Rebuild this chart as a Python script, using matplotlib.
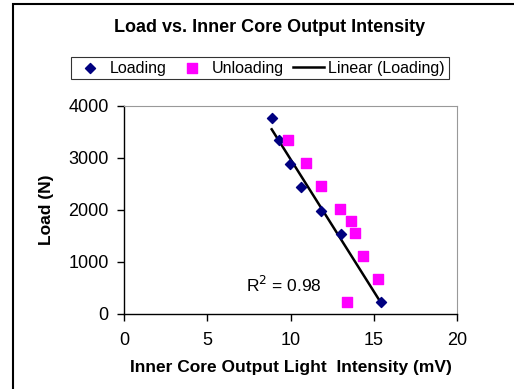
import numpy as np
import matplotlib
matplotlib.use("Agg")
import matplotlib.pyplot as plt
from matplotlib.patches import Rectangle

plt.rcParams['font.family'] = ['Liberation Sans', 'DejaVu Sans']

# data
load_x = [8.87, 9.31, 9.99, 10.63, 11.85, 13.05, 15.45]
load_y = [3760, 3340, 2880, 2450, 1990, 1545, 225]
unload_x = [9.83, 10.91, 11.81, 13.0, 13.61, 13.87, 14.37, 15.23, 13.39]
unload_y = [3340, 2900, 2460, 2010, 1780, 1560, 1120, 670, 240]
r2_label = 0.98

fig = plt.figure(figsize=(5.14, 3.89), dpi=100)
ax = fig.add_axes([124/514, 1 - 314/389, 333/514, 208/389])

ax.scatter(load_x, load_y, marker='D', s=26, color='#000080', label='Loading', zorder=3)
ax.scatter(unload_x, unload_y, marker='s', s=44, color='#FF00FF', label='Unloading', zorder=3)

# linear trendline for loading
k, b = np.polyfit(load_x, load_y, 1)
xs = np.array([min(load_x), max(load_x)])
ax.plot(xs, k * xs + b, color='black', lw=1.8, label='Linear (Loading)', zorder=2)
ax.text(7.35, 560, "R$^2$ = %.2f" % r2_label, fontsize=12.5, va='center')

ax.set_xlim(0, 20)
ax.set_ylim(0, 4000)
ax.set_xticks([0, 5, 10, 15, 20])
ax.set_yticks([0, 1000, 2000, 3000, 4000])
ax.tick_params(labelsize=13, direction='out', length=5, width=1)
ax.tick_params(axis='y', pad=6)
ax.tick_params(axis='x', pad=8)
ax.spines['top'].set_color('#999999')
ax.spines['right'].set_color('#999999')
ax.spines['left'].set_linewidth(1)
ax.spines['bottom'].set_linewidth(1)

ax.set_xlabel("Inner Core Output Light  Intensity (mV)", fontsize=12.5, fontweight='bold', labelpad=8)
ax.set_ylabel("Load (N)", fontsize=12.5, fontweight='bold', labelpad=10)
fig.suptitle("Load vs. Inner Core Output Intensity", x=270/514, y=1 - 28/389,
             fontsize=13, fontweight='bold', va='center')

leg = fig.legend(loc='center', bbox_to_anchor=(260/514, 1 - 68/389), ncol=3, fontsize=11.5,
                 frameon=True, fancybox=False, edgecolor='black', handlelength=1.9,
                 handletextpad=0.3, columnspacing=0.6, borderpad=0.25, borderaxespad=0)
leg.get_frame().set_linewidth(0.8)

# outer chart border
fig.patches.append(Rectangle((13/514, -0.05), 1.2, 1 - 4/389 + 0.05, transform=fig.transFigure,
                             fill=False, edgecolor='black', lw=1.5))

fig.savefig("out.png", dpi=100)
